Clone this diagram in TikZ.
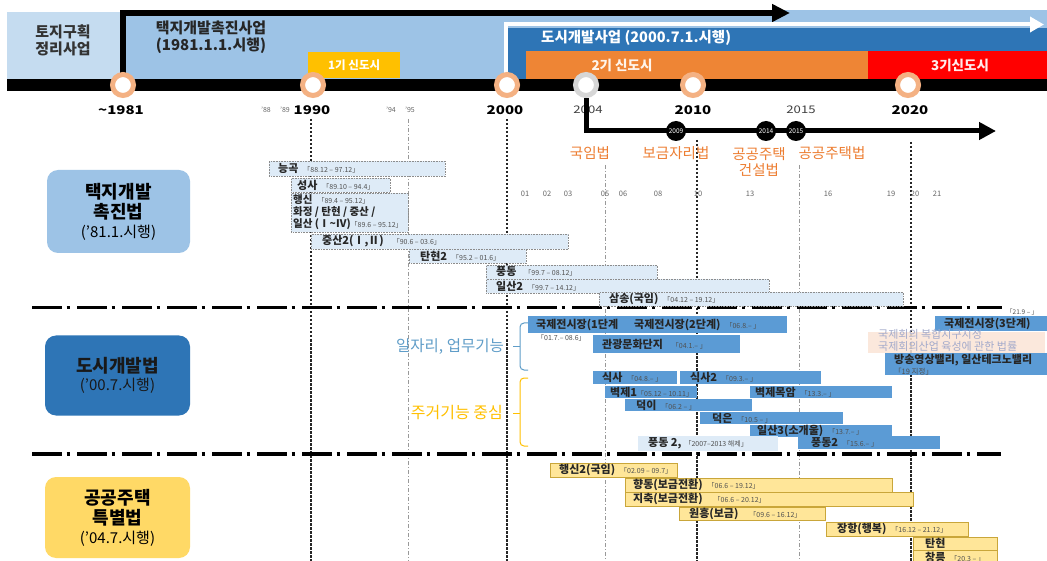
\documentclass[tikz,border=0pt]{standalone}
\usepackage{fontspec}
\setmainfont{Noto Sans CJK KR}
\newfontfamily\widefont{Noto Sans CJK KR}[FakeStretch=1.25]
\usetikzlibrary{arrows.meta}
\definecolor{tojiblue}{HTML}{C5DCF0}
\definecolor{midblue}{HTML}{9DC3E6}
\definecolor{darkblue}{HTML}{2E75B6}
\definecolor{bandorange}{HTML}{EE8535}
\definecolor{bandred}{HTML}{FF0000}
\definecolor{bandyellow}{HTML}{FFC000}
\definecolor{ringc}{HTML}{F4B183}
\definecolor{ringgray}{HTML}{D6D6D6}
\definecolor{lbfill}{HTML}{DEEBF7}
\definecolor{lbdraw}{HTML}{8C8C8C}
\definecolor{bbfill}{HTML}{5B9BD5}
\definecolor{ybfill}{HTML}{FFE699}
\definecolor{ybdraw}{HTML}{C9A63A}
\definecolor{dategray}{HTML}{505050}
\definecolor{orgtxt}{HTML}{ED7D31}
\definecolor{jobblue}{HTML}{5F9DC8}
\definecolor{law3}{HTML}{FFD966}
\definecolor{hlfill}{HTML}{FBE5D6}
\definecolor{hltext}{HTML}{A3AACB}
\newcommand\dte[1]{\hspace{5pt}{\mdseries\fontsize{7}{8}\selectfont\color{dategray}#1}}
\newcommand\mkbar[8]{%
  \node[#2, anchor=north west, minimum width={(#5)-(#3)}, minimum height={(#6)-(#4)}] (#1) at (#3,#4) {};
  \node[bartext, anchor=west] (#1t) at (#7,{((#4)+(#6))/2}) {#8};}
\tikzset{
  lbar/.style={fill=lbfill, draw=lbdraw, densely dotted, line width=0.6pt, inner sep=0pt},
  lbarnb/.style={fill=lbfill, inner sep=0pt},
  bbar/.style={fill=bbfill, inner sep=0pt},
  ybar/.style={fill=ybfill, draw=ybdraw, line width=0.6pt, inner sep=0pt},
  bartext/.style={inner sep=0pt, font=\bfseries\fontsize{11}{12}\selectfont, text=black!85},
  ring/.style={circle, minimum size=21pt, inner sep=0pt, fill=white, draw=ringc, line width=5pt},
  yearb/.style={font=\widefont\bfseries\fontsize{12}{13}\selectfont, inner sep=0pt},
  years/.style={font=\fontsize{7}{8}\selectfont, text=black!60, inner sep=0pt},
  yeart/.style={font=\fontsize{7.5}{8}\selectfont, text=black!60, inner sep=0pt},
  blkc/.style={circle, fill=black, minimum size=20pt, inner sep=0pt, text=white, font=\fontsize{6.5}{7}\selectfont},
  lawlbl/.style={text=orgtxt, font=\fontsize{14.5}{16.5}\selectfont, inner sep=0pt, align=center},
  sepline/.style={line width=3.3pt, dash pattern=on 30pt off 4.5pt on 3.5pt off 7pt},
  vheavy/.style={line width=1.2pt, draw=black!85, dash pattern=on 2.5pt off 1.5pt},
  vlight/.style={line width=0.7pt, draw=black!40, dash pattern=on 4pt off 2pt on 1pt off 2pt},
  lawbox/.style={rounded corners=11pt, inner sep=0pt, align=center, font=\bfseries\fontsize{18}{20}\selectfont},
}
\begin{document}
\begin{tikzpicture}[x=1pt,y=-1pt]
\useasboundingbox (0,0) rectangle (1047,561);
\clip (0,0) rectangle (1047,561);
\fill[white] (0,0) rectangle (1047,561);

% ---------- top bands ----------
\fill[midblue] (121,10) rectangle (1047,80);
\fill[tojiblue] (7,12) rectangle (121,80);
\fill[darkblue] (508,28) rectangle (1047,80);
\fill[bandorange] (526,51) rectangle (868,80);
\fill[bandred] (868,51) rectangle (1047,80);
\node[fill=bandyellow, anchor=north west, minimum width=92, minimum height=26, inner sep=0pt,
      text=white, font=\bfseries\fontsize{11.5}{12}\selectfont] (gen1) at (308,52) {1기 신도시};

\coordinate (blkstart) at (123,80);
\coordinate (blkcorner) at (123,13);
\coordinate (blkend) at (790,13);
\draw[line width=5.5pt, line join=miter, -{Triangle[length=18pt,width=17pt]}] (blkstart) -- (blkcorner) -- (blkend);
\coordinate (whstart) at (505.5,80);
\coordinate (whcorner) at (505.5,24.5);
\coordinate (whend) at (1044,24.5);
\draw[white, line width=4pt, line join=miter, -{Triangle[length=14pt,width=15pt]}] (whstart) -- (whcorner) -- (whend);

\node[align=center, inner sep=0pt, text=black!80, font=\bfseries\fontsize{15}{17}\selectfont] (toji) at (63,40) {토지구획\\정리사업};
\node[align=center, inner sep=0pt, text=black!85, font=\bfseries\fontsize{15}{16.5}\selectfont] (taekji) at (211,37) {택지개발촉진사업\\(1981.1.1.시행)};
\node[anchor=west, inner sep=0pt, text=white, font=\bfseries\fontsize{14.5}{16}\selectfont] (dosi) at (541,38) {도시개발사업 (2000.7.1.시행)};
\node[inner sep=0pt, text=white!92!orange, font=\bfseries\fontsize{13.5}{15}\selectfont] (gen2) at (622,65) {2기 신도시};
\node[inner sep=0pt, text=white!92!red, font=\bfseries\fontsize{13.5}{15}\selectfont] (gen3) at (960,65) {3기신도시};

% ---------- timeline ----------
\fill[black] (7,79) rectangle (1047,91);

% vertical guide lines
\draw[vheavy] (311,119) -- (311,561);
\draw[vheavy] (507,119) -- (507,561);
\draw[vheavy] (697,140) -- (697,561);
\draw[vheavy] (911,142) -- (911,561);
\draw[vlight] (408,119) -- (408,561);
\draw[vlight] (605,165) -- (605,561);
\draw[vlight] (799,165) -- (799,561);

% year labels
\node[yearb] (y1981) at (121,110) {\textasciitilde1981};
\node[years] (y88) at (266,110) {’88};
\node[years] (y89) at (285,110) {’89};
\node[yearb] (y1990) at (312,110) {1990};
\node[years] (y94) at (391,110) {’94};
\node[years] (y95) at (410,110) {’95};
\node[yearb] (y2000) at (505,110) {2000};
\node[inner sep=0pt, font=\widefont\fontsize{10.5}{11}\selectfont, text=black!75] (y2004) at (588,110) {2004};
\node[yearb] (y2010) at (693,110) {2010};
\node[inner sep=0pt, font=\widefont\fontsize{10.5}{11}\selectfont, text=black!75] (y2015) at (801,110) {2015};
\node[yearb] (y2020) at (910,110) {2020};

\node[ring] (c1981) at (123,85) {};
\node[ring] (c1990) at (313,85) {};
\node[ring] (c2000) at (507,85) {};
\node[ring, draw=ringgray] (c2004) at (586,85) {};
\node[ring] (c2010) at (693,85) {};
\node[ring] (c2020) at (908,85) {};

% second arrow
\coordinate (arr2end) at (996,131);
\draw[line width=5pt, line join=miter, -{Triangle[length=17pt,width=17pt]}] (c2004.south) |- (arr2end);
\node[blkc] (b2009) at (676,131) {2009};
\node[blkc] (b2014) at (766,131) {2014};
\node[blkc] (b2015) at (796,131) {2015};

\node[lawlbl] (lawA) at (590,153) {국임법};
\node[lawlbl] (lawB) at (676,153) {보금자리법};
\node[lawlbl] (lawC) at (759,162) {공공주택\\건설법};
\node[lawlbl] (lawD) at (832,153) {공공주택법};

% small year ticks
\foreach \yy/\xx in {01/525,02/547,03/568,05/605,06/623,08/658,10/698,13/750,16/828,19/891,20/915,21/937}
  \node[yeart] (t\yy) at (\xx,194) {\yy};

% ---------- separators ----------
\coordinate (s1a) at (32,307.5); \coordinate (s1b) at (1002,307.5);
\coordinate (s2a) at (32,454); \coordinate (s2b) at (1001,454);
\draw[sepline] (s1a) -- (s1b);
\draw[sepline] (s2a) -- (s2b);

% ---------- law boxes ----------
\node[lawbox, fill=midblue, minimum width=143, minimum height=83] (lawbox1) at (118.5,211.5)
  {택지개발\\촉진법\\[-1pt]\mdseries\fontsize{15}{16}\selectfont (’81.1.시행)};
\node[lawbox, fill=darkblue, minimum width=145, minimum height=80, text=black!90] (lawbox2) at (117.5,375.5)
  {도시개발법\\[-2pt]\mdseries\fontsize{15}{16}\selectfont (’00.7.시행)};
\node[lawbox, fill=law3, minimum width=145, minimum height=81] (lawbox3) at (117.5,517.5)
  {공공주택\\특별법\\[-1pt]\mdseries\fontsize{15}{16}\selectfont (’04.7.시행)};

% ---------- section 1 bars ----------
\mkbar{nunggok}{lbar}{269}{161}{445}{176}{278}{능곡\dte{「88.12 – 97.12」}}
\mkbar{seongsa}{lbar}{291}{178}{390}{192}{297}{성사\dte{「89.10 – 94.4」}}
\node[lbar, anchor=north west, minimum width=117, minimum height=39] (haengsin) at (291,193) {};
\node[anchor=north west, align=left, inner sep=0pt, text=black!85, font=\bfseries\fontsize{10.5}{11.8}\selectfont] (haengsint) at (293,194.5)
  {행신\dte{「89.4 – 95.12」}\\화정 / 탄현 / 중산 /\\일산 (Ⅰ\textasciitilde Ⅳ)\hspace{-5pt}\dte{「89.6 – 95.12」}};
\mkbar{jungsan2}{lbar}{311}{234}{568}{249}{322}{중산2(Ⅰ,Ⅱ)\hspace{4pt}\dte{「90.6 – 03.6」}}
\mkbar{tanhyeon2}{lbar}{409}{249}{526}{263}{420}{탄현2\dte{「95.2 – 01.6」}}
\mkbar{pungdong}{lbar}{486}{265}{657}{279}{496}{풍동\hspace{3pt}\dte{「99.7 – 08.12」}}
\mkbar{ilsan2}{lbar}{486}{279}{769}{293}{496}{일산2\dte{「99.7 – 14.12」}}
\mkbar{samsong}{lbar}{599}{292}{903}{306}{609}{삼송(국임)\dte{「04.12 – 19.12」}}

% ---------- section 2 bars ----------
\mkbar{gukje1}{bbar}{528}{316}{626}{333}{536}{국제전시장(1단계}
\mkbar{gukje2}{bbar}{623}{316}{787}{333}{634}{국제전시장(2단계)\dte{「06.8.– 」}}
\node[anchor=north west, inner sep=0pt, font=\fontsize{7}{8}\selectfont, text=dategray] (gukje1d) at (537,334) {「01.7.– 08.6」};
\mkbar{gwangwang}{bbar}{593}{335}{740}{353}{602}{관광문화단지\hspace{4pt}\dte{「04.1.– 」}}
\mkbar{siksa}{bbar}{593}{371}{677}{384}{602}{식사\dte{「04.8.– 」}}
\mkbar{siksa2}{bbar}{680}{371}{821}{384}{690}{식사2\dte{「09.3.– 」}}
\mkbar{byeokje1}{bbar}{605}{386}{697}{398}{610}{벽제1\hspace{-5pt}\dte{「05.12 – 10.11」}}
\mkbar{mokam}{bbar}{750}{386}{892}{398}{755}{벽제목암\dte{「13.3.– 」}}
\mkbar{deogi}{bbar}{625}{399}{752}{411}{636}{덕이\dte{「06.2 – 」}}
\mkbar{deokeun}{bbar}{700}{412}{843}{424}{712}{덕은\dte{「10.5 – 」}}
\mkbar{ilsan3}{bbar}{750}{425}{892}{437}{757}{일산3(소개울)\dte{「13.7.– 」}}
\mkbar{pungdongx}{lbarnb}{638}{436}{778}{451}{648}{풍동 2,\hspace{-2pt}\dte{「2007–2013 해제」}}
\mkbar{pungdong2}{bbar}{798}{436}{940}{449}{811}{풍동2\dte{「15.6.– 」}}
\mkbar{gukje3}{bbar}{935}{316}{1047}{331}{944}{국제전시장(3단계)}
\node[anchor=west, inner sep=0pt, font=\fontsize{6.5}{7}\selectfont, text=dategray] (gukje3d) at (1006,312) {「21.9 – 」};
\node[fill=hlfill, fill opacity=0.85, anchor=north west, minimum width=177, minimum height=21, inner sep=0pt] (hl) at (868,332) {};
\node[anchor=north west, align=left, inner sep=0pt, text=hltext, font=\fontsize{11}{12.5}\selectfont] (hlt) at (878,329)
  {국제회의 복합지구지정\\국제회의산업 육성에 관한 법률};
\node[bbar, anchor=north west, minimum width=162, minimum height=22] (bangsong) at (885,353) {};
\node[anchor=north west, align=left, inner sep=0pt, text=black!85, font=\bfseries\fontsize{11}{11.5}\selectfont] (bangsongt) at (894,354)
  {방송영상밸리, 일산테크노밸리\\\mdseries\fontsize{7.5}{8}\selectfont\color{dategray}「19 지정」};

% brackets
\draw[jobblue, line width=1pt, rounded corners=4pt] (528,323) -- (520,323) -- (520,370) -- (528,370);
\coordinate (jobtick) at (513,347);
\coordinate (jobmid) at (520,347);
\draw[jobblue, line width=1pt] (jobmid) -- (jobtick);
\node[anchor=east, inner sep=0pt, text=jobblue, font=\fontsize{15.5}{17}\selectfont] (joblbl) at (504,347) {일자리, 업무기능};
\draw[bandyellow, line width=1pt, rounded corners=4pt] (528,378) -- (520,378) -- (520,446) -- (528,446);
\coordinate (restick) at (513,413);
\coordinate (resmid) at (520,413);
\draw[bandyellow, line width=1pt] (resmid) -- (restick);
\node[anchor=east, inner sep=0pt, text=bandyellow, font=\fontsize{16}{17}\selectfont] (reslbl) at (503,413) {주거기능 중심};

% ---------- section 3 bars ----------
\mkbar{haengsin2}{ybar}{550}{463}{677}{477}{559}{행신2(국임)\dte{「02.09 – 09.7」}}
\mkbar{hyangdong}{ybar}{625}{478}{892}{492}{633}{향동(보금전환)\dte{「06.6 – 19.12」}}
\mkbar{jichuk}{ybar}{625}{492}{913}{506}{633}{지축(보금전환)\hspace{6pt}\dte{「06.6 – 20.12」}}
\mkbar{wonheung}{ybar}{679}{507}{825}{520}{689}{원흥(보금)\hspace{6pt}\dte{「09.6 – 16.12」}}
\mkbar{janghang}{ybar}{826}{522}{968}{536}{837}{장항(행복)\dte{「16.12 – 21.12」}}
\mkbar{tanhyeon}{ybar}{913}{537}{997}{550}{925}{탄현}
\mkbar{changneung}{ybar}{913}{550}{997}{565}{925}{창릉\dte{「20.3 – 」}}
\end{tikzpicture}
\end{document}
